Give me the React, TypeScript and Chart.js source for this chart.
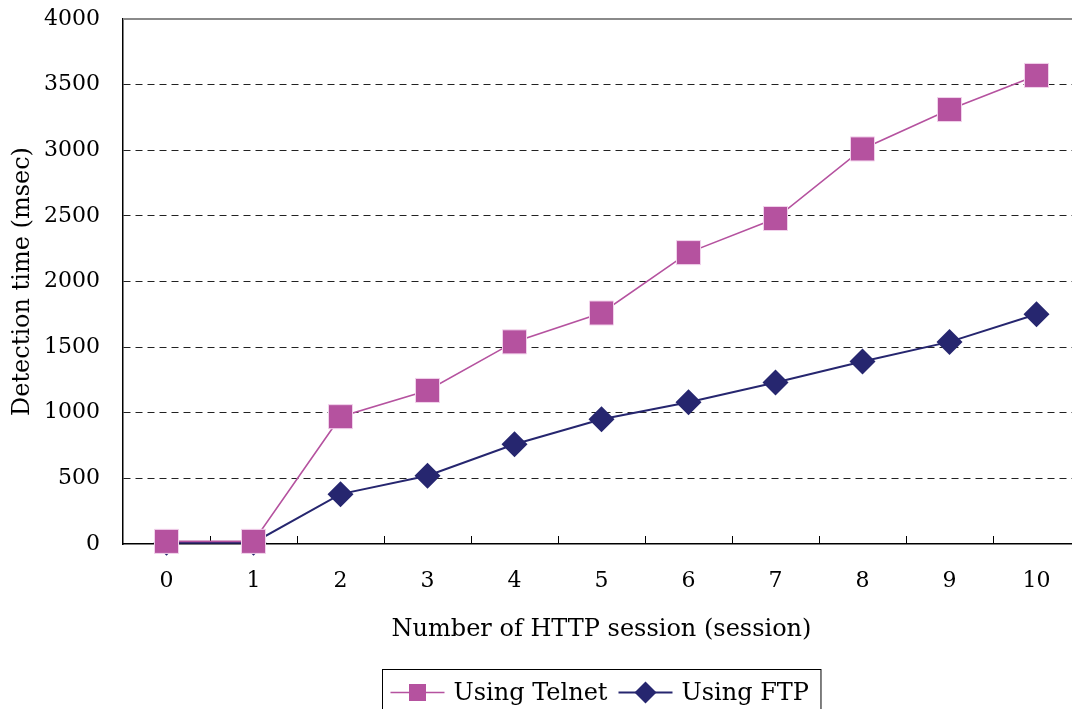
import React, { useEffect, useRef } from 'react';
import { Chart, registerables } from 'chart.js';

Chart.register(...registerables);

const sessions = ['0', '1', '2', '3', '4', '5', '6', '7', '8', '9', '10'];
const telnetTimes = [20, 20, 970, 1170, 1540, 1760, 2220, 2480, 3010, 3310, 3570];
const ftpTimes = [10, 10, 380, 520, 760, 950, 1080, 1230, 1390, 1540, 1750];
const yMin = 0;
const yMax = 4000;
const yStep = 500;
const xTitle = 'Number of HTTP session (session)';
const yTitle = 'Detection time (msec)';
const telnetLabel = 'Using Telnet';
const ftpLabel = 'Using FTP';

const FONT = '"DejaVu Serif", serif';
const FS_TICK = 22;
const FS = 24;
const TELNET = '#B5529F';
const FTP = '#26266F';

const decor = {
  id: 'decor',
  beforeDatasetsDraw(chart: any) {
    const { ctx, chartArea, scales } = chart;
    ctx.save();
    ctx.strokeStyle = '#8a8a8a';
    ctx.lineWidth = 2;
    ctx.beginPath();
    ctx.moveTo(chartArea.left, chartArea.top);
    ctx.lineTo(chartArea.right, chartArea.top);
    ctx.stroke();
    const xs = scales.x;
    ctx.strokeStyle = '#000';
    ctx.lineWidth = 1;
    for (let i = 0; i < sessions.length - 1; i++) {
      const x = Math.round(xs.getPixelForValue(i + 0.5)) + 0.5;
      ctx.beginPath();
      ctx.moveTo(x, chartArea.bottom);
      ctx.lineTo(x, chartArea.bottom - 8);
      ctx.stroke();
    }
    ctx.restore();
  },
  afterDraw(chart: any) {
    const { ctx, chartArea } = chart;
    ctx.save();
    ctx.font = `${FS}px ${FONT}`;
    ctx.textBaseline = 'middle';
    const items = chart.data.datasets.map((ds: any) => ({
      label: ds.label,
      color: ds.borderColor,
      style: ds.pointStyle,
      lw: ds.borderWidth,
    }));
    const lineLen = 54;
    const padL = 8;
    const gapText = 9;
    const gapItem = 11;
    let total = padL;
    items.forEach((it: any, i: number) => {
      total += lineLen + gapText + ctx.measureText(it.label).width;
      if (i < items.length - 1) total += gapItem;
    });
    total += 12;
    const cx = (chartArea.left + chartArea.right) / 2;
    const left = Math.round(cx - total / 2) + 0.5;
    const top = Math.round(chartArea.bottom + 125) + 0.5;
    ctx.strokeStyle = '#000';
    ctx.lineWidth = 1;
    ctx.strokeRect(left, top, total, 60);
    const cy = top + 23;
    let x = left + padL;
    items.forEach((it: any) => {
      ctx.strokeStyle = it.color;
      ctx.lineWidth = it.lw;
      ctx.beginPath();
      ctx.moveTo(x, cy);
      ctx.lineTo(x + lineLen, cy);
      ctx.stroke();
      const mx = x + lineLen / 2;
      ctx.fillStyle = it.color;
      if (it.style === 'rect') {
        ctx.fillRect(mx - 8.5, cy - 8.5, 17, 17);
      } else {
        ctx.beginPath();
        ctx.moveTo(mx, cy - 11);
        ctx.lineTo(mx + 11, cy);
        ctx.lineTo(mx, cy + 11);
        ctx.lineTo(mx - 11, cy);
        ctx.closePath();
        ctx.fill();
      }
      x += lineLen + gapText;
      ctx.fillStyle = '#000';
      ctx.textAlign = 'left';
      ctx.fillText(it.label, x, cy + 1);
      x += ctx.measureText(it.label).width + gapItem;
    });
    ctx.restore();
  },
};

export default function App() {
  const ref = useRef<HTMLCanvasElement | null>(null);
  useEffect(() => {
    if (!ref.current) return;
    const chart = new Chart(ref.current, {
      type: 'line',
      data: {
        labels: sessions,
        datasets: [
          {
            label: telnetLabel,
            data: telnetTimes,
            borderColor: TELNET,
            backgroundColor: TELNET,
            borderWidth: 1.6,
            pointStyle: 'rect',
            pointRadius: 17,
            pointBorderColor: '#f2d3ec',
            pointBorderWidth: 1,
            pointBackgroundColor: TELNET,
            tension: 0,
            clip: false,
          },
          {
            label: ftpLabel,
            data: ftpTimes,
            borderColor: FTP,
            backgroundColor: FTP,
            borderWidth: 2,
            pointStyle: 'rectRot',
            pointRadius: 13,
            pointBorderWidth: 0,
            pointBackgroundColor: FTP,
            tension: 0,
            clip: false,
          },
        ],
      },
      options: {
        animation: false,
        responsive: false,
        layout: { autoPadding: false, padding: { left: 0, right: 10, top: 19, bottom: 65 } },
        plugins: {
          legend: { display: false },
          tooltip: { enabled: false },
        },
        scales: {
          x: {
            type: 'category',
            offset: true,
            grid: { display: false, drawTicks: false, offset: true },
            border: { display: true, color: '#000', width: 1.5 },
            ticks: { color: '#000', font: { family: FONT, size: FS_TICK }, padding: 24, maxRotation: 0 },
            title: {
              display: true,
              text: xTitle,
              color: '#000',
              font: { family: FONT, size: FS },
              padding: { top: 0, bottom: 0 },
            },
            afterFit: (s: any) => {
              s.height = 100;
              s.paddingLeft = 0;
              s.paddingRight = 0;
            },
          },
          y: {
            min: yMin,
            max: yMax,
            ticks: {
              stepSize: yStep,
              color: '#000',
              font: { family: FONT, size: FS_TICK },
              padding: 23,
              callback: (v: any) => String(v),
            },
            grid: {
              drawTicks: false,
              color: (c: any) => (c.tick && (c.tick.value === yMin || c.tick.value === yMax) ? 'rgba(0,0,0,0)' : '#222'),
              lineWidth: 1,
            },
            border: { display: true, color: '#000', width: 1.5, dash: [7, 5] },
            title: {
              display: true,
              text: yTitle,
              color: '#000',
              font: { family: FONT, size: FS },
              padding: { top: 8, bottom: 0 },
            },
            afterFit: (s: any) => {
              s.width = 123;
              s.paddingTop = 0;
              s.paddingBottom = 0;
            },
          },
        },
      },
      plugins: [decor],
    });
    return () => chart.destroy();
  }, []);
  return (
    <div style={{ position: 'fixed', left: 0, top: 0, width: 1072, height: 709, overflow: 'hidden', background: '#fff' }}>
      <canvas ref={ref} width={1090} height={709} style={{ display: 'block' }} />
    </div>
  );
}
